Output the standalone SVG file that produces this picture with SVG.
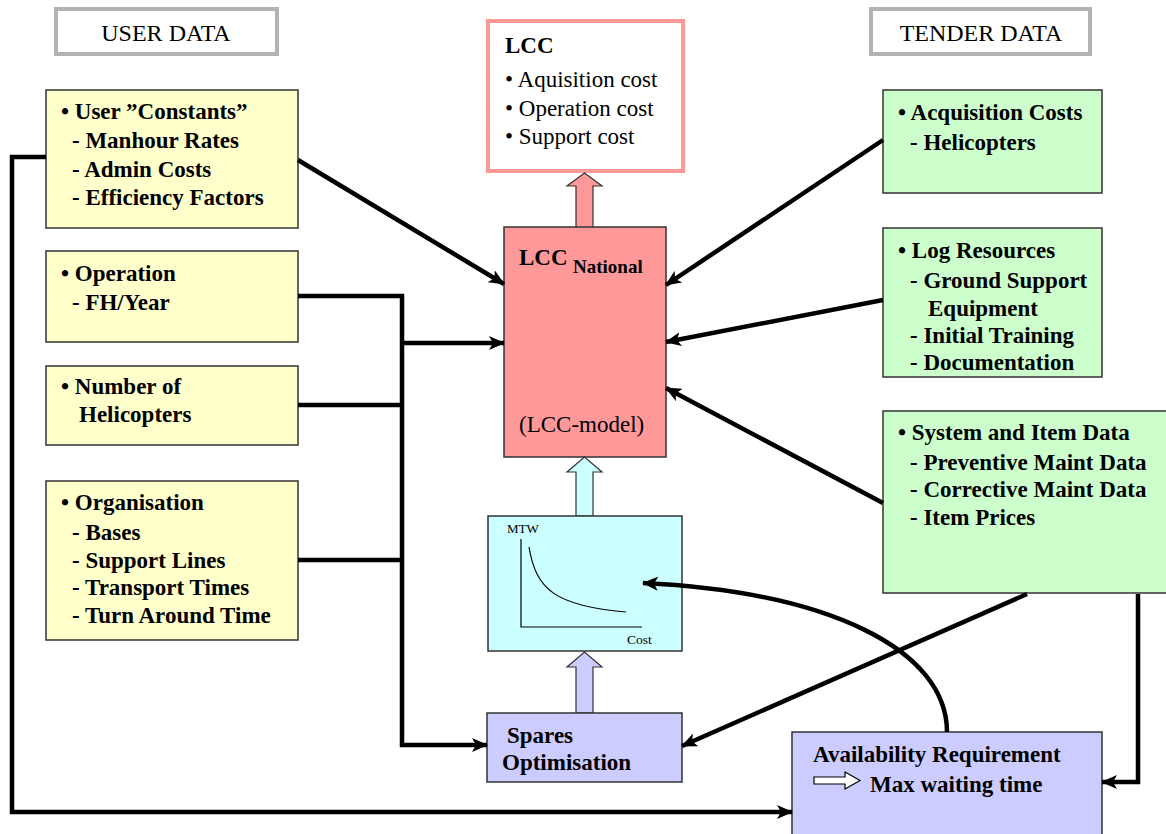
<svg xmlns="http://www.w3.org/2000/svg" width="1166" height="834" viewBox="0 0 1166 834">
<defs>
<style>
.t{font-family:"Liberation Serif","Times New Roman",serif;fill:#000}
.b{font-weight:bold;font-size:23px}
.r{font-size:23px}
.h{font-size:24px}
.hdr{fill:#fff;stroke:#b3b3b3;stroke-width:4}
.user{fill:#ffffcc;stroke:#333;stroke-width:1.5}
.tender{fill:#ccffcc;stroke:#333;stroke-width:1.5}
.conn{fill:none;stroke:#000;stroke-width:4.5}
</style>
<marker id="ah" markerUnits="userSpaceOnUse" markerWidth="16" markerHeight="14" refX="15" refY="7" orient="auto">
<path d="M0,0 L16,7 L0,14 L4,7 Z" fill="#000"/>
</marker>
</defs>
<rect width="1166" height="834" fill="#fff"/>

<g id="hdr-user">
<rect class="hdr" x="56" y="9" width="221" height="45"/>
<text class="t h" x="166" y="41" text-anchor="middle">USER DATA</text>
</g>
<g id="hdr-tender">
<rect class="hdr" x="871" y="9" width="219" height="45"/>
<text class="t h" x="981" y="41" text-anchor="middle">TENDER DATA</text>
</g>

<g id="lcc-out">
<rect x="488" y="21" width="195" height="150" fill="#fff" stroke="#ff9999" stroke-width="4"/>
<text class="t b" x="505" y="53">LCC</text>
<text class="t r" x="505" y="87">• Aquisition cost</text>
<text class="t r" x="505" y="116">• Operation cost</text>
<text class="t r" x="505" y="144">• Support cost</text>
</g>

<g id="lcc-national">
<polygon points="576,228 576,186 567,186 584.5,173 602,186 593,186 593,228" fill="#ff9999" stroke="#333" stroke-width="1.2"/>
<rect x="504" y="227" width="162" height="230" fill="#ff9999" stroke="#333" stroke-width="1.5"/>
<text class="t b" x="519" y="265">LCC</text>
<text class="t" font-weight="bold" font-size="19" x="573" y="273">National</text>
<text class="t r" x="519" y="432">(LCC-model)</text>
</g>

<g id="chart">
<polygon points="576,516 576,472 567,472 584.5,457 602,472 593,472 593,516" fill="#ccffff" stroke="#333" stroke-width="1.2"/>
<rect x="488" y="516" width="194" height="135" fill="#ccffff" stroke="#333" stroke-width="1.5"/>
<text class="t" font-size="13" x="507" y="533">MTW</text>
<path d="M521,539 L521,627 L642,627" fill="none" stroke="#000" stroke-width="1.2"/>
<path d="M529,547 C536,590 556,606 626,612" fill="none" stroke="#000" stroke-width="1.2"/>
<text class="t" font-size="13.5" x="627" y="644">Cost</text>
</g>

<g id="spares">
<polygon points="576,713 576,667 567,667 584.5,652 602,667 593,667 593,713" fill="#ccccff" stroke="#333" stroke-width="1.2"/>
<rect x="487" y="713" width="195" height="69" fill="#ccccff" stroke="#333" stroke-width="1.5"/>
<text class="t b" x="507" y="743">Spares</text>
<text class="t b" x="502" y="770">Optimisation</text>
</g>

<g id="availability">
<rect x="792" y="732" width="310" height="110" fill="#ccccff" stroke="#333" stroke-width="1.5"/>
<text class="t b" x="813" y="762">Availability Requirement</text>
<polygon points="814,777 845,777 845,772 860,780.5 845,789 845,784 814,784" fill="#fff" stroke="#000" stroke-width="1.2"/>
<text class="t b" x="870" y="792">Max waiting time</text>
</g>

<g id="user-constants">
<rect class="user" x="46" y="90" width="252" height="138"/>
<text class="t b" x="61" y="119">• User ”Constants”</text>
<text class="t b" x="72" y="148">- Manhour Rates</text>
<text class="t b" x="72" y="177">- Admin Costs</text>
<text class="t b" x="72" y="205">- Efficiency Factors</text>
</g>
<g id="operation">
<rect class="user" x="46" y="251" width="252" height="91"/>
<text class="t b" x="61" y="281">• Operation</text>
<text class="t b" x="72" y="310">- FH/Year</text>
</g>
<g id="helicopters">
<rect class="user" x="46" y="366" width="252" height="79"/>
<text class="t b" x="61" y="394">• Number of</text>
<text class="t b" x="79" y="422">Helicopters</text>
</g>
<g id="organisation">
<rect class="user" x="46" y="481" width="252" height="159"/>
<text class="t b" x="61" y="510">• Organisation</text>
<text class="t b" x="72" y="540">- Bases</text>
<text class="t b" x="72" y="568">- Support Lines</text>
<text class="t b" x="72" y="595">- Transport Times</text>
<text class="t b" x="72" y="623">- Turn Around Time</text>
</g>

<g id="acquisition">
<rect class="tender" x="883" y="90" width="219" height="103"/>
<text class="t b" x="898" y="120">• Acquisition Costs</text>
<text class="t b" x="910" y="150">- Helicopters</text>
</g>
<g id="log-resources">
<rect class="tender" x="883" y="228" width="219" height="149"/>
<text class="t b" x="898" y="258">• Log Resources</text>
<text class="t b" x="910" y="288">- Ground Support</text>
<text class="t b" x="928" y="316">Equipment</text>
<text class="t b" x="910" y="343">- Initial Training</text>
<text class="t b" x="910" y="370">- Documentation</text>
</g>
<g id="system-data">
<rect class="tender" x="883" y="411" width="290" height="182"/>
<text class="t b" x="898" y="440">• System and Item Data</text>
<text class="t b" x="910" y="470">- Preventive Maint Data</text>
<text class="t b" x="910" y="497">- Corrective Maint Data</text>
<text class="t b" x="910" y="525">- Item Prices</text>
</g>

<g id="connectors">
<path class="conn" d="M298,160 L504,284" marker-end="url(#ah)"/>
<path class="conn" d="M46,157 L12,157 L12,812 L792,812" marker-end="url(#ah)"/>
<path class="conn" d="M298,296 L402,296 L402,745 L487,745" marker-end="url(#ah)"/>
<path class="conn" d="M402,343 L504,343" marker-end="url(#ah)"/>
<path class="conn" d="M298,405 L402,405"/>
<path class="conn" d="M298,560 L402,560"/>
<path class="conn" d="M883,140 L666,285" marker-end="url(#ah)"/>
<path class="conn" d="M883,300 L666,342" marker-end="url(#ah)"/>
<path class="conn" d="M883,503 L666,388" marker-end="url(#ah)"/>
<path class="conn" d="M1027,594 L682,746" marker-end="url(#ah)"/>
<path class="conn" d="M1138,594 L1138,782 L1102,782" marker-end="url(#ah)"/>
<path class="conn" d="M947,732 C947,650 830,592 643,583" marker-end="url(#ah)"/>
</g>
</svg>
